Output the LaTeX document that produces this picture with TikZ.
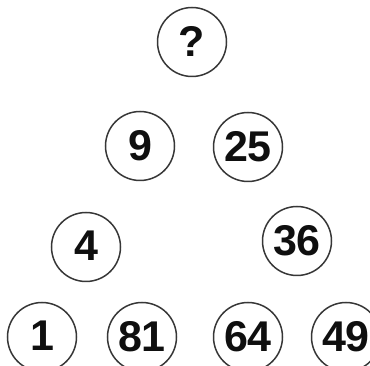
\documentclass[tikz,border=0pt]{standalone}
\usepackage{fontspec}
\setmainfont{Liberation Sans}
\definecolor{ink}{RGB}{15,15,15}
\definecolor{rim}{RGB}{55,55,55}
\tikzset{
  ball/.style={circle, draw=rim, line width=1.5pt, fill=white, minimum size=69pt,
    inner sep=0pt, text=ink, font=\fontsize{43}{43}\selectfont\bfseries}
}

\begin{document}
\begin{tikzpicture}[x=1pt, y=-1pt]
\useasboundingbox (0,0) rectangle (370,366);
% one circle per entry: name / text / centre in px
\foreach \nm/\txt/\xx/\yy in {
  top/?/192/42,
  nine/9/140/146, tfive/25/248/147,
  four/4/86/247, tsix/36/297/241,
  one/1/42/337, eone/81/142/337, sfour/64/248/337, nnine/49/346/337%
} {
  \node[ball] (\nm) at (\xx,\yy) {\raisebox{2pt}{\txt}};
}
\end{tikzpicture}
\end{document}
